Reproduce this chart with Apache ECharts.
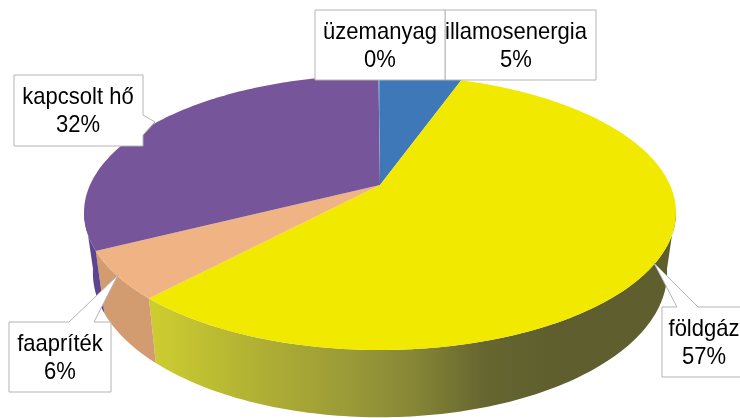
<!DOCTYPE html>
<html><head><meta charset="utf-8">
<style>html,body{margin:0;padding:0;background:#fff}#c{width:740px;height:418px}</style>
<script src="https://cdn.jsdelivr.net/npm/echarts@6/dist/echarts.min.js"></script>
</head><body><div id="c"></div>
<script>
// Data, clockwise from 12 o'clock
const categories = ['illamosenergia','földgáz','faapríték','kapcsolt hő','üzemanyag'];
const values = [5.4, 56.5, 5.6, 32.4, 0.1];
const percentLabels = ['5%','57%','6%','32%','0%'];

// Styles
const topColors = ['#3f78b8','#f2e900','#f0b484','#77559a','#5a9fd0'];
const wallColors = ['#2f5c90','#888830','#d29c70','#5c4590','#4a80a8'];
const wallStops = [[0,'#cccc30'],[0.23,'#b2b234'],[0.48,'#9a9a38'],[0.645,'#858536'],[0.81,'#666630'],[1,'#5e5e2e']];

// Perspective pie geometry
const geo = {cx:380, cy:185, a:290, b:132, k:0.2, depth:59, shrinkX:0.97, stretchY:1.05, frontFrom:100, frontTo:260};
function rim(thetaDeg, lower){
  const t = thetaDeg*Math.PI/180, w = 1+geo.k*Math.cos(t);
  const sx = lower ? geo.shrinkX : 1, sy = lower ? geo.stretchY : 1, d = lower ? geo.depth : 0;
  return [geo.cx + sx*geo.a*Math.sin(t)/w, geo.cy - sy*geo.b*Math.cos(t)/w + d];
}
const total = values.reduce((p,v)=>p+v,0);
function span(i){
  let before = 0; for(let j=0;j<i;j++) before += values[j];
  return [before/total*360,(before+values[i])/total*360];
}
function arc(a0,a1,lower){
  const pts=[], n=Math.max(2,Math.ceil(a1-a0));
  for(let i=0;i<=n;i++) pts.push(rim(a0+(a1-a0)*i/n,lower));
  return pts;
}
function renderTop(params){
  const [a0,a1]=span(params.dataIndex);
  return {type:'polygon',shape:{points:[[geo.cx,geo.cy]].concat(arc(a0,a1,false))},
    style:{fill:topColors[params.dataIndex]}};
}
function renderWall(params){
  const i=params.dataIndex;
  let [a0,a1]=span(i);
  a0=Math.max(a0,geo.frontFrom); a1=Math.min(a1,geo.frontTo);
  if(a1<=a0) return {type:'group',children:[]};
  const fill = i===1 ? new echarts.graphic.LinearGradient(157,0,560,0,
     wallStops.map(s=>({offset:s[0],color:s[1]})),true) : wallColors[i];
  return {type:'polygon',shape:{points:arc(a0,a1,false).concat(arc(a0,a1,true).reverse())},style:{fill:fill}};
}

// Callout outline points and text centres
const callouts = [
  {outline:[[445,10],[596,10],[596,80],[445,80]], text:[516,46]},
  {outline:[[662,307],[677,307],[654,263],[698,307],[745,307],[745,377],[662,377]], text:[704,343]},
  {outline:[[9,322],[69,322],[118,275],[94,322],[111,322],[111,392],[9,392]], text:[60,358]},
  {outline:[[14,75],[143,75],[143,115],[155,122],[143,135],[143,146],[14,146]], text:[78,111]},
  {outline:[[315,10],[445,10],[445,80],[315,80]], text:[380,46]}
];
function renderCallout(params){
  const i=params.dataIndex,c=callouts[i];
  return {type:'group',children:[
    {type:'polygon',shape:{points:c.outline},style:{fill:'#fff',stroke:'#b4b4b4',lineWidth:1}},
    {type:'text',x:c.text[0],y:c.text[1],scaleX:0.917,style:{x:0,y:0,text:categories[i]+'\n'+percentLabels[i],
      fill:'#000',font:'24px "Liberation Sans"',lineHeight:28,align:'center',verticalAlign:'middle'}}
  ]};
}
const seriesData = values.map((v,i)=>({name:categories[i],value:v}));
const chart = echarts.init(document.getElementById('c'),null,{renderer:'canvas'});
chart.setOption({
  animation:false,
  backgroundColor:'#fff',
  series:[
    {type:'custom',coordinateSystem:'none',z:1,silent:true,renderItem:renderWall,data:seriesData},
    {type:'custom',coordinateSystem:'none',z:2,silent:true,renderItem:renderTop,data:seriesData},
    {type:'custom',coordinateSystem:'none',z:3,silent:true,renderItem:renderCallout,data:seriesData}
  ]
});
</script></body></html>
